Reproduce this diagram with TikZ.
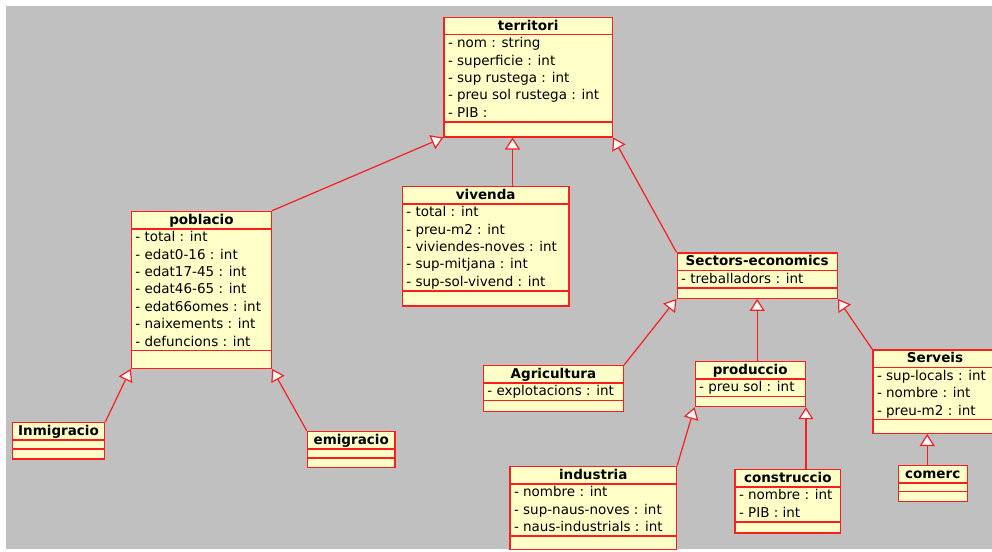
\documentclass[tikz,border=0pt]{standalone}
\usepackage{fontspec}
\setmainfont{DejaVu Sans}
\usetikzlibrary{shapes.multipart, arrows.meta}

\definecolor{umlred}{RGB}{250,30,30}
\definecolor{umlfill}{RGB}{255,255,200}
\definecolor{canvas}{RGB}{192,192,192}

% width of the compartments of the class being drawn
\newlength\clsw
% one line of a class box: fixed height so the compartments line up
\newcommand\umlstrut{\rule[-4.6pt]{0pt}{17.4pt}}
\newcommand\cname[1]{\parbox[t]{\clsw}{\centering\umlstrut\textbf{#1}}}
\newcommand\attrs[1]{\parbox[t]{\clsw}{\raggedright #1}}
\newcommand\attr[1]{\umlstrut\mbox{- #1}\par}
\newcommand\gap[1]{\rule{0pt}{#1}}

\tikzset{
  % negative ysep cancels the rule width that the split adds to every part
  umlclass/.style={rectangle split, rectangle split parts=3, draw=umlred, line width=1.4pt,
    fill=umlfill, inner xsep=4pt, inner ysep=-0.7pt, anchor=north west,
    font=\fontsize{13.5pt}{17.4pt}\selectfont},
  clsw/.code={\setlength\clsw{#1}},
  inh/.style={draw=umlred, line width=1.2pt, -{Triangle[width=15pt, length=12pt, fill=white]}}
}

\begin{document}
\begin{tikzpicture}[x=1pt, y=-1pt]
\useasboundingbox (0,0) rectangle (992,551);
\clip (0,0) rectangle (992,551);
\fill[canvas] (6,6) rectangle (992,549);

% top class
\node[umlclass, clsw=160.4pt] (territori) at (443.3,16.7) {\cname{territori}
  \nodepart{two}\attrs{\attr{nom : string}\attr{superficie : int}\attr{sup rustega : int}\attr{preu sol rustega : int}\attr{PIB :}}
  \nodepart{three}\gap{15pt}};

% population branch
\node[umlclass, clsw=132pt] (poblacio) at (130.7,210.7) {\cname{poblacio}
  \nodepart{two}\attrs{\attr{total : int}\attr{edat0-16 : int}\attr{edat17-45 : int}\attr{edat46-65 : int}\attr{edat66omes : int}\attr{naixements : int}\attr{defuncions : int}}
  \nodepart{three}\gap{17.6pt}};
\node[umlclass, clsw=84.3pt] (inmigracio) at (11.7,421.7) {\cname{Inmigracio}
  \nodepart{two}\gap{9pt}
  \nodepart{three}\gap{10pt}};
\node[umlclass, clsw=79.6pt] (emigracio) at (306.7,430.7) {\cname{emigracio}
  \nodepart{two}\gap{9pt}
  \nodepart{three}\gap{9.4pt}};

% housing
\node[umlclass, clsw=158.6pt] (vivenda) at (401.7,185.7) {\cname{vivenda}
  \nodepart{two}\attrs{\attr{total : int}\attr{preu-m2 : int}\attr{viviendes-noves : int}\attr{sup-mitjana : int}\attr{sup-sol-vivend : int}}
  \nodepart{three}\gap{15pt}};

% economic sectors
\node[umlclass, clsw=152pt] (sectors) at (676.5,252.3) {\cname{Sectors-economics}
  \nodepart{two}\attrs{\attr{treballadors : int}}
  \nodepart{three}\gap{10.4pt}};
\node[umlclass, clsw=132pt] (agricultura) at (482.7,365) {\cname{Agricultura}
  \nodepart{two}\attrs{\attr{explotacions : int}}
  \nodepart{three}\gap{10.7pt}};
\node[umlclass, clsw=102pt] (produccio) at (694.5,360.7) {\cname{produccio}
  \nodepart{two}\attrs{\attr{preu sol : int}}
  \nodepart{three}\gap{10.3pt}};
\node[umlclass, clsw=116pt] (serveis) at (872.3,349.3) {\cname{Serveis}
  \nodepart{two}\attrs{\attr{sup-locals : int}\attr{nombre : int}\attr{preu-m2 : int}}
  \nodepart{three}\gap{13.7pt}};
\node[umlclass, clsw=158.4pt] (industria) at (509.3,465.7) {\cname{industria}
  \nodepart{two}\attrs{\attr{nombre : int}\attr{sup-naus-noves : int}\attr{naus-industrials : int}}
  \nodepart{three}\gap{13.3pt}};
\node[umlclass, clsw=97.7pt] (construccio) at (734.3,469) {\cname{construccio}
  \nodepart{two}\attrs{\attr{nombre : int}\attr{PIB : int}}
  \nodepart{three}\gap{11pt}};
\node[umlclass, clsw=61pt] (comerc) at (897.5,465) {\cname{comerc}
  \nodepart{two}\gap{8.4pt}
  \nodepart{three}\gap{10pt}};

% generalisations
\coordinate (viv-up) at ([xshift=110.8pt]vivenda.north west);
\coordinate (com-up) at ([xshift=-5.5pt]comerc.north);
\draw[inh] (poblacio.north east) -- (territori.south west);
\draw[inh] (viv-up) -- (viv-up |- territori.south);
\draw[inh] (sectors.north west) -- (territori.south east);
\draw[inh] (inmigracio.north east) -- (poblacio.south west);
\draw[inh] (emigracio.north west) -- (poblacio.south east);
\draw[inh] (agricultura.north east) -- (sectors.south west);
\draw[inh] (produccio.north -| sectors.south) -- (sectors.south);
\draw[inh] (serveis.north west) -- (sectors.south east);
\draw[inh] (industria.north east) -- (produccio.south west);
\draw[inh] (construccio.north -| produccio.south east) -- (produccio.south east);
\draw[inh] (com-up) -- (com-up |- serveis.south);
\end{tikzpicture}
\end{document}
